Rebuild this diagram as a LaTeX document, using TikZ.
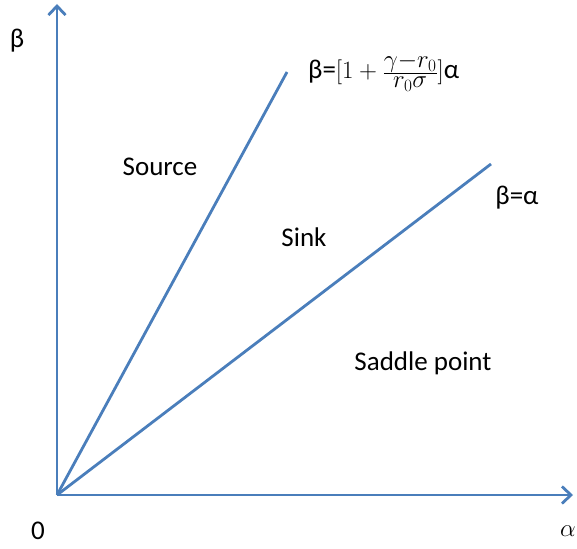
\documentclass[tikz,border=0pt]{standalone}
\usepackage{fontspec}
\setmainfont{Carlito}
\usetikzlibrary{arrows.meta}
\definecolor{axblue}{RGB}{74,126,187}
\begin{document}
\begin{tikzpicture}[x=1pt,y=-1pt,
  axis/.style={draw=axblue,line width=2.8pt,-{Straight Barb[length=9pt,width=17pt,line width=2.8pt]}},
  ray/.style={draw=axblue,line width=2.8pt},
  lbl/.style={font=\fontsize{27}{32}\selectfont,inner sep=0pt}]
\useasboundingbox (0,0) rectangle (577,548);
\coordinate (O) at (57,495);
\coordinate (Ytop) at (57,4);
\coordinate (Xend) at (573,495);
\coordinate (R1) at (287,72);
\coordinate (R2) at (491,164);
\draw[axis] (O) -- (Ytop);
\draw[axis] (O) -- (Xend);
\draw[ray] (O) -- (R1);
\draw[ray] (O) -- (R2);
\node[lbl] (beta) at (17,41) {β};
\node[lbl] (zero) at (38,531) {0};
\node[lbl] (alpha) at (568,531) {{\fontsize{32}{36}\selectfont$\alpha$}};
\node[lbl] (src) at (160,167) {Source};
\node[lbl] (sink) at (304,237) {Sink};
\node[lbl] (saddle) at (423,363) {Saddle point};
\node[lbl] (eqa) at (517,198) {β=α};
\node[lbl,anchor=west] (eqb) at (308,72) {β={\fontsize{33}{38}\selectfont$[1+\frac{\gamma-r_0}{r_0\sigma}]$}α};
\end{tikzpicture}
\end{document}
